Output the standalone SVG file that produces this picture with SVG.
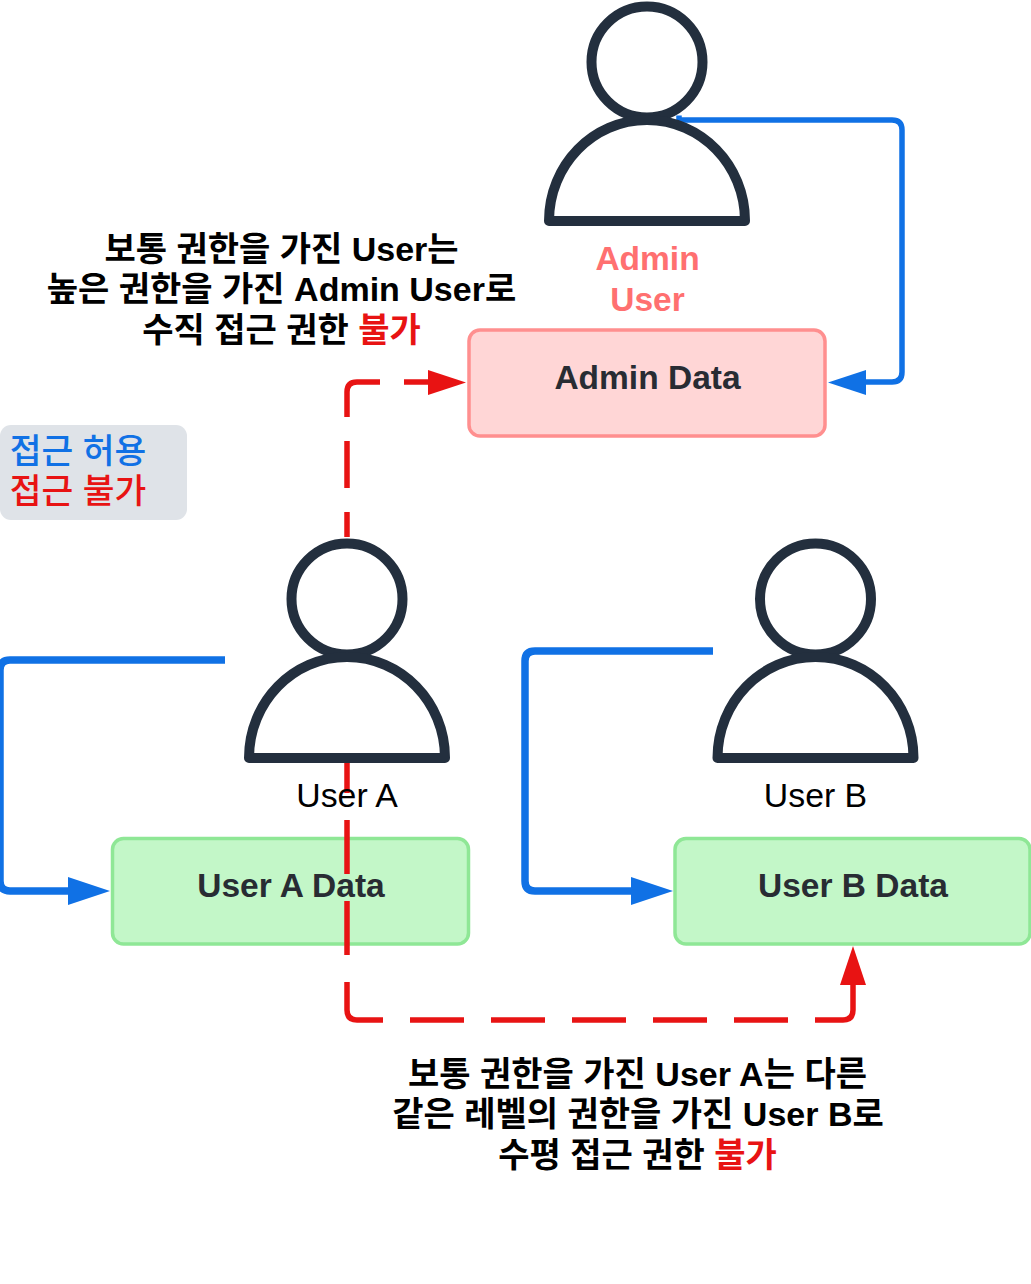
<svg xmlns="http://www.w3.org/2000/svg" width="1031" height="1284" viewBox="0 0 1031 1284">
<style>
text{font-family:"Liberation Sans","Noto Sans CJK KR",sans-serif;text-anchor:middle}
.note{font-size:34px;font-weight:700;fill:#000}
.lbl{font-size:33.500px;font-weight:700;fill:#282c33}
.usr{font-size:33.800px;fill:#000}
.adm{font-size:33.500px;font-weight:700;fill:#ff7070}
.leg{font-size:34.500px;font-weight:500}
.person circle,.person path{fill:#fff;stroke:#232f3e;stroke-width:10;stroke-linejoin:round}
.allow{fill:none;stroke:#1071e5;stroke-width:5.500}
.thick{stroke-width:7.500}
.deny{fill:none;stroke:#e81313;stroke-width:5.500}
</style>
<rect width="1031" height="1284" fill="#fff"/>
<g id="connectors">
<path class="deny" d="M347 537V512M347 488V441M347 417V392Q347 382 357 382H380M404 382H428"/>
<path d="M466 382.500L428 370V395Z" fill="#e81313"/>
<path class="allow" d="M679 115.500V120H892Q902 120 902 130V372Q902 382 892 382H866"/>
<path d="M828 382.500L866 370V395Z" fill="#1071e5"/>
<path class="allow thick" d="M225 660H10Q0 660 0 670V881Q0 891 10 891H68"/>
<path d="M110 891L68 877V905Z" fill="#1071e5"/>
<path class="allow thick" d="M713 651H535Q525 651 525 661V881Q525 891 535 891H631"/>
<path d="M673 891L631 877V905Z" fill="#1071e5"/>
</g>
<g id="admin-data"><rect x="469" y="330" width="356" height="106" rx="11" fill="#ffd6d6" stroke="#ff8f8f" stroke-width="3.500"/><text class="lbl" x="647.500" y="388.500">Admin Data</text></g>
<g id="user-a-data"><rect x="112.500" y="838.500" width="356" height="105.500" rx="11" fill="#c3f7c8" stroke="#8fe796" stroke-width="3.500"/><text class="lbl" x="291" y="896.500">User A Data</text></g>
<g id="user-b-data"><rect x="675" y="838.500" width="355" height="105.500" rx="11" fill="#c3f7c8" stroke="#8fe796" stroke-width="3.500"/><text class="lbl" x="853" y="896.500">User B Data</text></g>
<g id="deny-lines">
<path class="deny" d="M347 763V793M347 820V874M347 901V955M347 982V1010Q347 1020 357 1020H383M410 1020H464M491 1020H545M572 1020H626M653 1020H707M734 1020H788M815 1020H843Q853 1020 853 1010V985"/>
<path d="M853 946L840 985H866Z" fill="#e81313"/>
</g>
<g id="admin-user" class="person"><circle cx="647" cy="62" r="55.500"/><path d="M549 221C549 165 593 120 647 120S745 165 745 221Z"/><text class="adm" x="647.500" y="270">Admin</text><text class="adm" x="647.500" y="310.500">User</text></g>
<g id="user-a" class="person"><circle cx="347" cy="599" r="55.500"/><path d="M249 758C249 702 293 657 347 657S445 702 445 758Z"/><text class="usr" x="347" y="807">User A</text></g>
<g id="user-b" class="person"><circle cx="815.500" cy="599" r="55.500"/><path d="M717.500 758C717.500 702 761.500 657 815.500 657S913.500 702 913.500 758Z"/><text class="usr" x="815.500" y="807">User B</text></g>
<g id="legend"><rect y="425" width="187" height="95" rx="11" fill="#dfe3e8"/><text class="leg" x="78" y="463" fill="#1071e5">접근 허용</text><text class="leg" x="78" y="503" fill="#e81313">접근 불가</text></g>
<g id="note-vertical"><text class="note" x="281.500" y="261">보통 권한을 가진 User는</text><text class="note" x="281.500" y="301">높은 권한을 가진 Admin User로</text><text class="note" x="281.500" y="342">수직 접근 권한 <tspan fill="#e81313">불가</tspan></text></g>
<g id="note-horizontal"><text class="note" x="637.500" y="1086">보통 권한을 가진 User A는 다른</text><text class="note" x="638" y="1126">같은 레벨의 권한을 가진 User B로</text><text class="note" x="637.500" y="1167">수평 접근 권한 <tspan fill="#e81313">불가</tspan></text></g>
</svg>
